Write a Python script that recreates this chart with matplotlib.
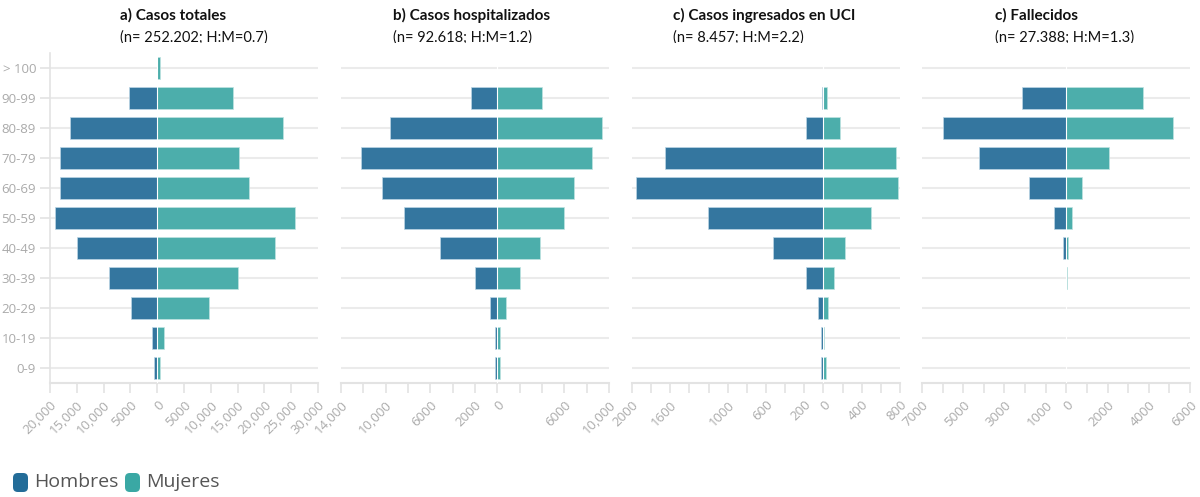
import matplotlib
matplotlib.use("Agg")
import matplotlib.pyplot as plt
from matplotlib.patches import FancyBboxPatch, Rectangle
import numpy as np

# ---------------- data ----------------
age_groups = ["> 100", "90-99", "80-89", "70-79", "60-69", "50-59",
              "40-49", "30-39", "20-29", "10-19", "0-9"]

titles = ["a) Casos totales", "b) Casos hospitalizados",
          "c) Casos ingresados en UCI", "c) Fallecidos"]
subtitles = ["(n= 252.202; H:M=0.7)", "(n= 92.618; H:M=1.2)",
             "(n= 8.457; H:M=2.2)", "(n= 27.388; H:M=1.3)"]

hombres_totales = [100, 5200, 16200, 18100, 18100, 19000, 14900, 8900, 4900, 900, 600]
mujeres_totales = [500, 14100, 23400, 15200, 17100, 25800, 22000, 15100, 9700, 1200, 500]

hombres_hosp = [0, 2400, 9600, 12200, 10300, 8400, 5100, 2000, 700, 200, 200]
mujeres_hosp = [0, 4000, 9400, 8500, 6900, 6000, 3800, 2000, 800, 200, 200]

hombres_uci = [0, 20, 181, 1654, 1961, 1201, 528, 178, 52, 21, 28]
mujeres_uci = [0, 40, 178, 761, 779, 498, 230, 111, 45, 5, 25]

hombres_fall = [0, 2150, 6000, 4220, 1800, 615, 150, 20, 0, 0, 0]
mujeres_fall = [0, 3700, 5160, 2090, 760, 290, 100, 20, 0, 0, 0]

xlims = [(-20000, 30000), (-14000, 10000), (-2000, 800), (-7000, 6000)]
tick_steps = [5000, 2000, 200, 1000]
tick_labels = [
    {-20000: "20,000", -15000: "15,000", -10000: "10,000", -5000: "5000", 0: "0",
     5000: "5000", 10000: "10,000", 15000: "15,000", 20000: "20,000",
     25000: "25,000", 30000: "30,000"},
    {-14000: "14,000", -10000: "10,000", -6000: "6000", -2000: "2000", 0: "0",
     6000: "6000", 10000: "10,000"},
    {-2000: "2000", -1600: "1600", -1000: "1000", -600: "600", -200: "200",
     0: "0", 400: "400", 800: "800"},
    {-7000: "7000", -5000: "5000", -3000: "3000", -1000: "1000", 0: "0",
     2000: "2000", 4000: "4000", 6000: "6000"},
]
legend_labels = ["Hombres", "Mujeres"]

# ---------------- style ----------------
C_H = "#34769f"
C_M = "#4caeab"
C_H_LEG = "#236c98"
C_M_LEG = "#3aa8a4"
GRID = "#ebebeb"
TICKC = "#aaaaaa"
FONT = "Open Sans"

hombres = [hombres_totales, hombres_hosp, hombres_uci, hombres_fall]
mujeres = [mujeres_totales, mujeres_hosp, mujeres_uci, mujeres_fall]

W, H = 1200, 497
fig = plt.figure(figsize=(W / 100, H / 100), dpi=100)

panel_left = [50, 341, 632, 922]
panel_w = 268
top_px, bot_px = 53, 383
title_x = [120, 393, 673, 995]

y = np.arange(len(age_groups))

for i in range(4):
    ax = fig.add_axes([panel_left[i] / W, 1 - bot_px / H, panel_w / W, (bot_px - top_px) / H])
    ax.set_xlim(*xlims[i])
    ax.set_ylim(len(age_groups) - 0.5, -0.5)
    ax.set_axisbelow(True)
    for yy in y:
        ax.axhline(yy, color=GRID, lw=1.5, zorder=0)
    ax.barh(y, -np.array(hombres[i]), height=0.76, color=C_H,
            edgecolor="#bcd6e6", linewidth=0.5, zorder=2)
    ax.barh(y, np.array(mujeres[i]), height=0.76, color=C_M,
            edgecolor="#bfe3e1", linewidth=0.5, zorder=2)
    ax.axvline(0, color="white", lw=0.8, zorder=3)

    lo, hi = xlims[i]
    ticks = np.arange(lo, hi + 1, tick_steps[i])
    ax.set_xticks(ticks)
    ax.set_xticklabels([tick_labels[i].get(int(t), "") for t in ticks],
                       rotation=45, ha="right", va="top", rotation_mode="anchor",
                       fontsize=9.5, color=TICKC, family=FONT)
    ax.tick_params(axis="x", length=7, width=1.2, color="#e3e3e3", pad=4)

    for s in ["top", "right"]:
        ax.spines[s].set_visible(False)
    ax.spines["bottom"].set_color("#e3e3e3")
    ax.spines["bottom"].set_linewidth(1.5)
    if i == 0:
        ax.spines["left"].set_color("#e3e3e3")
        ax.spines["left"].set_linewidth(1.2)
        ax.set_yticks(y)
        ax.set_yticklabels(age_groups, fontsize=9.5, color=TICKC, family=FONT)
        ax.tick_params(axis="y", length=7, width=1.2, color="#e3e3e3", pad=3)
    else:
        ax.spines["left"].set_visible(False)
        ax.set_yticks([])

    fig.text(title_x[i] / W, 1 - 15 / H, titles[i], fontsize=11, fontweight="bold",
             family="Lato", ha="left", va="center", color="#111111")
    fig.text(title_x[i] / W, 1 - 37.5 / H, subtitles[i], fontsize=10.5,
             family="Lato", ha="left", va="center", color="#111111", zorder=3)

# the subtitles are cut along their lower edge in the reference
fig.add_artist(Rectangle((0, 1 - 51 / H), 1, 8 / H, transform=fig.transFigure,
                         facecolor="white", edgecolor="none", zorder=10))

# legend
leg_x = [13, 125]
for lab, col, lx in zip(legend_labels, [C_H_LEG, C_M_LEG], leg_x):
    patch = FancyBboxPatch((lx / W, 1 - 492 / H), 15 / W, 19 / H,
                           boxstyle="round,pad=0,rounding_size=0.004",
                           transform=fig.transFigure, facecolor=col,
                           edgecolor="none", mutation_aspect=W / H)
    fig.patches.append(patch)
    fig.text((lx + 21) / W, 1 - 482 / H, lab, fontsize=14, family=FONT,
             color="#555555", ha="left", va="center")

fig.savefig("out.png", dpi=100)
